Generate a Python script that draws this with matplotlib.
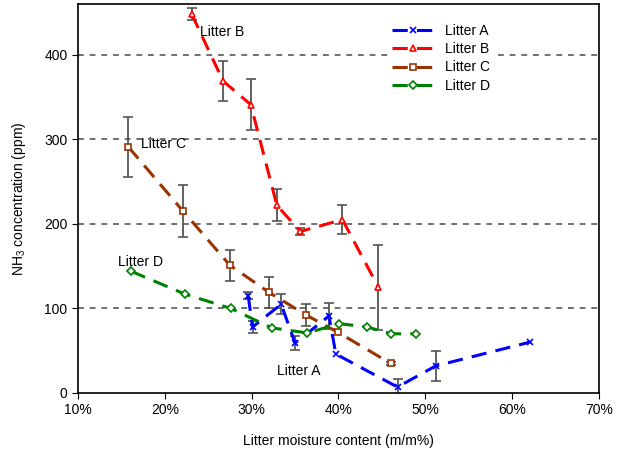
import numpy as np
import matplotlib
matplotlib.use("Agg")
import matplotlib.pyplot as plt
from matplotlib.ticker import PercentFormatter

plt.rcParams['font.family'] = ['Liberation Sans', 'DejaVu Sans']
plt.rcParams['mathtext.fontset'] = 'custom'
plt.rcParams['mathtext.rm'] = 'Liberation Sans'
plt.rcParams['mathtext.it'] = 'Liberation Sans'

# moisture content (%) / NH3 (ppm) / error (ppm)
a_x = [29.6, 30.1, 33.4, 35.0, 38.9, 39.7, 46.8, 51.2, 62.0]
a_y = [115, 78, 105, 59, 91, 46, 7, 32, 60]
a_err = [4, 7, 12, 8, 15, 0, 9, 18, 0]

b_x = [23.1, 26.7, 29.9, 32.9, 35.6, 40.45, 44.6]
b_y = [448, 369, 341, 222, 191, 205, 125]
b_err = [7, 24, 30, 19, 4, 17, 50]

c_x = [15.8, 22.1, 27.5, 32.0, 36.3, 39.9, 46.0]
c_y = [291, 215, 151, 119, 92, 72, 35]
c_err = [35, 31, 18, 18, 13, 0, 2]

d_x = [16.1, 22.3, 27.6, 32.3, 36.4, 40.1, 43.3, 46.1, 48.9]
d_y = [144, 117, 100, 77, 71, 82, 78, 70, 70]

series = [
    ("Litter A", a_x, a_y, a_err, "#0000FF", "x"),
    ("Litter B", b_x, b_y, b_err, "#FF0000", "^"),
    ("Litter C", c_x, c_y, c_err, "#993300", "s"),
    ("Litter D", d_x, d_y, None, "#008000", "D"),
]

fig = plt.figure(figsize=(6.22, 4.55), dpi=100)
ax = fig.add_axes([0.1254, 0.1363, 0.8376, 0.8549])

for y in [100, 200, 300, 400]:
    ax.axhline(y, color="#707070", lw=1.4, dashes=(3, 3), zorder=0)

for name, xs, ys, err, col, mk in series:
    if err is not None:
        m = np.array(err) > 0
        eb = ax.errorbar(np.array(xs)[m], np.array(ys)[m], yerr=np.array(err)[m],
                         fmt="none", ecolor="#555555", elinewidth=1.3,
                         capsize=3.5, capthick=1.2, zorder=2)
        for cl in eb[1]:
            cl.set_color("black")
    ax.plot(xs, ys, color=col, lw=2.2, dashes=(5, 3), marker=mk,
            ms=5 if mk != "D" else 4, mfc="white" if mk != "x" else col,
            mec=col, mew=1.2, label=name, zorder=3)

ax.text(24.1, 427, "Litter B", fontsize=10, va="center")
ax.text(17.3, 295, "Litter C", fontsize=10, va="center")
ax.text(14.6, 155, "Litter D", fontsize=10, va="center")
ax.text(32.9, 26, "Litter A", fontsize=10, va="center")

ax.set_xlim(10, 70)
ax.set_ylim(0, 460)
ax.set_xticks([10, 20, 30, 40, 50, 60, 70])
ax.set_yticks([0, 100, 200, 300, 400])
ax.xaxis.set_major_formatter(PercentFormatter(100, decimals=0))
ax.tick_params(direction="out", labelsize=10, length=4)
for s in ax.spines.values():
    s.set_linewidth(1.2)

ax.set_xlabel("Litter moisture content (m/m%)", fontsize=10, labelpad=12)
ax.set_ylabel("NH$_3$ concentration (ppm)", fontsize=10, labelpad=12)

leg = ax.legend(loc="upper right", bbox_to_anchor=(0.812, 0.977), fontsize=10,
                frameon=True, facecolor="white", edgecolor="none", framealpha=1,
                handlelength=3.0, labelspacing=0.3, borderpad=0.3)

fig.savefig("out.png", dpi=100)
